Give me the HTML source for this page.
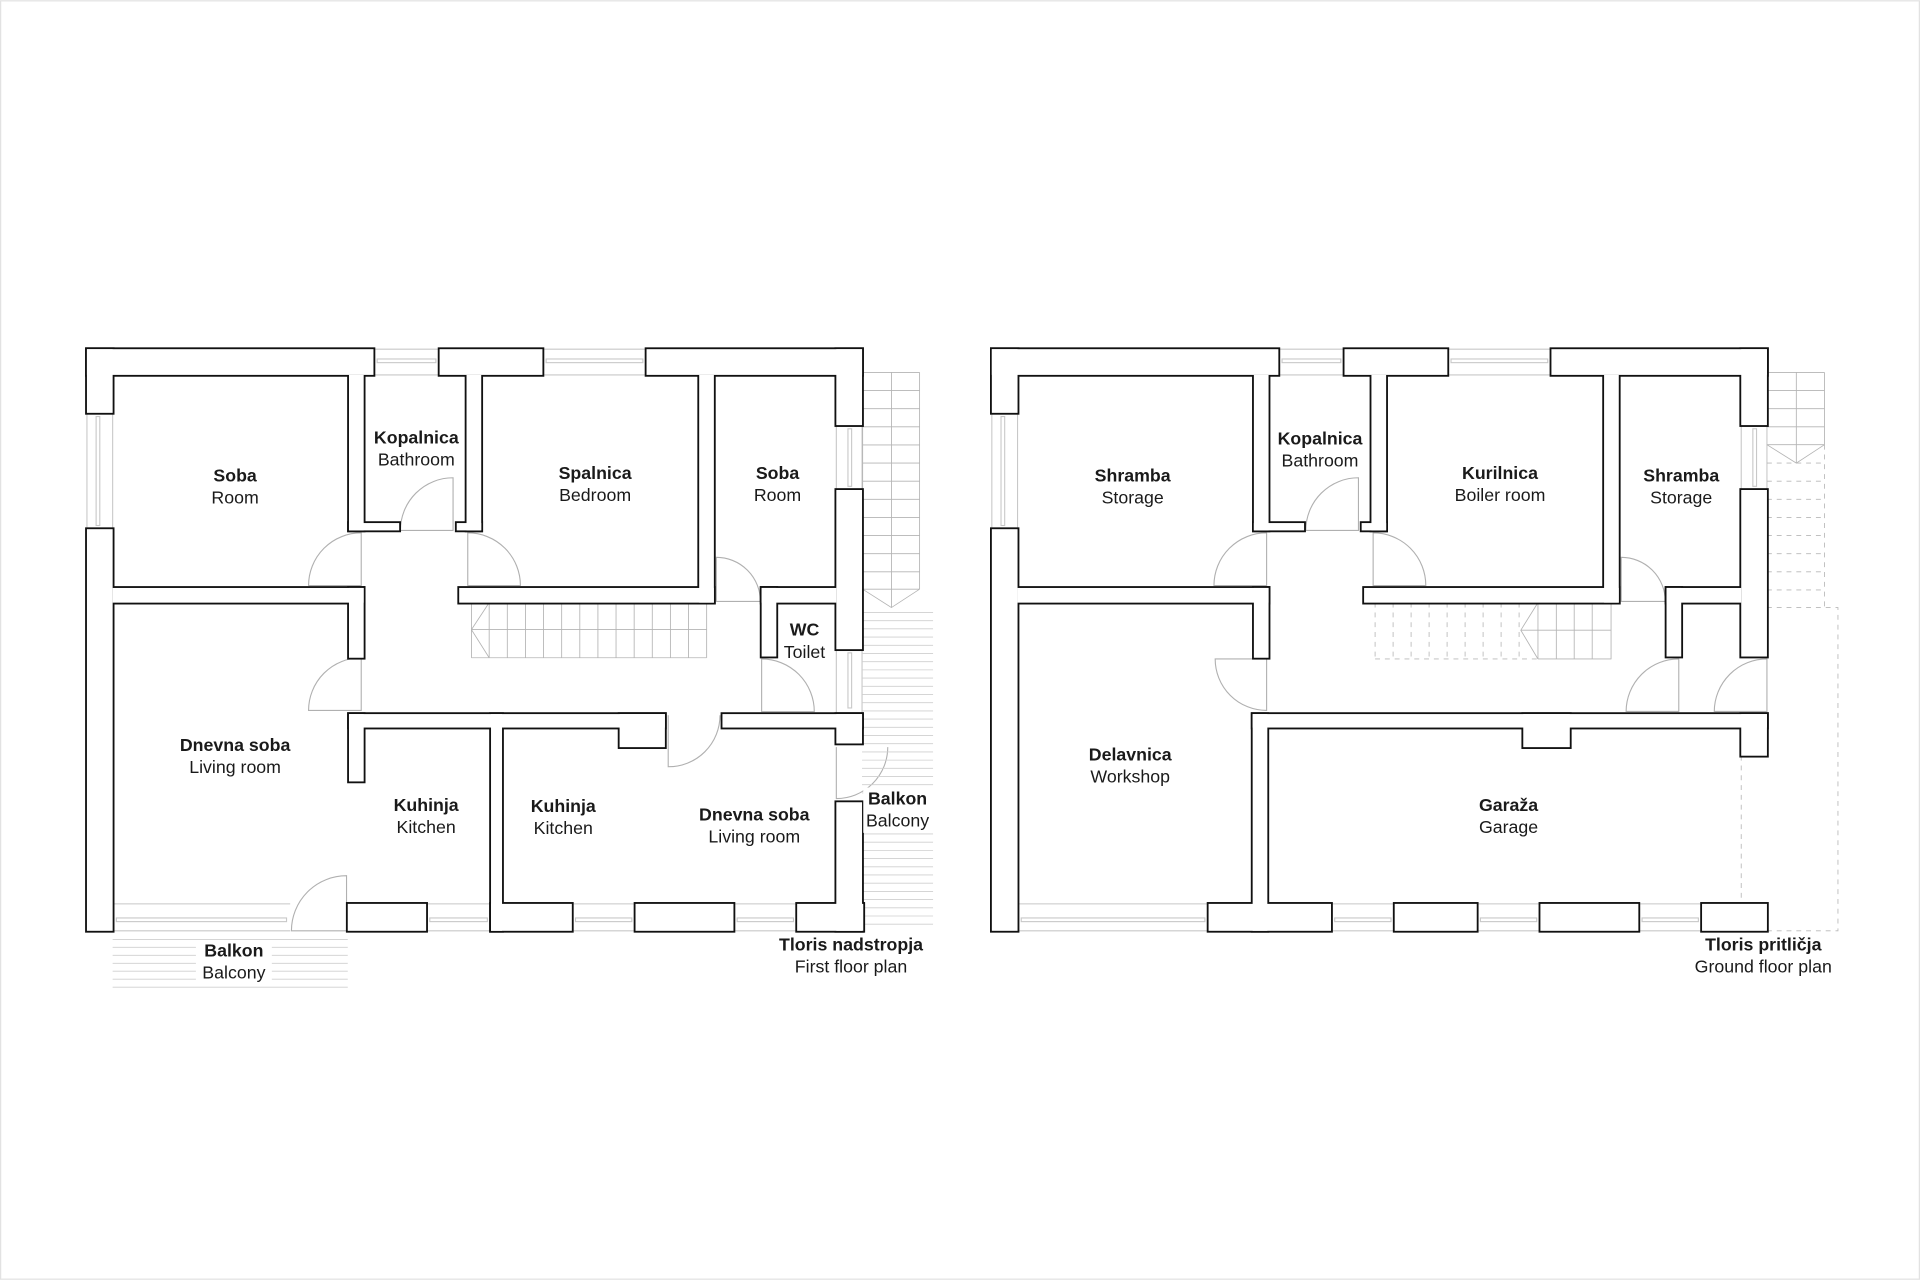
<!DOCTYPE html>
<html><head><meta charset="utf-8"><style>
html,body{margin:0;padding:0;background:#fff;}
svg{display:block;}
text{font-family:"Liberation Sans",Arial,sans-serif;font-size:14.5px;fill:#1a1a1a;text-anchor:middle;}
.b{font-weight:bold;}
</style></head><body>
<svg width="1920" height="1280" viewBox="0 0 1568 1045" xmlns="http://www.w3.org/2000/svg">
<rect x="0.5" y="0.5" width="1567" height="1044" fill="#fff" stroke="#e2e2e2" stroke-width="1"/>
<defs>
<g id="walls">
<rect x="71" y="285" width="234" height="21"/><rect x="71" y="285" width="21" height="52"/>
<rect x="359" y="285" width="84" height="21"/><rect x="528" y="285" width="176" height="21"/>
<rect x="683" y="285" width="21" height="62"/><rect x="71" y="432" width="21" height="328"/>
<rect x="285" y="306" width="12" height="127"/><rect x="285" y="427" width="41" height="6"/>
<rect x="381" y="306" width="12" height="127"/><rect x="373" y="427" width="20" height="6"/>
<rect x="92" y="480" width="205" height="12"/><rect x="285" y="480" width="12" height="57"/>
<rect x="375" y="480" width="208" height="12"/><rect x="571" y="306" width="12" height="186"/>
<rect x="683" y="400" width="21" height="130"/><rect x="622" y="480" width="61" height="12"/>
<rect x="622" y="480" width="12" height="56"/>
<rect x="285" y="583" width="258" height="11"/><rect x="506" y="583" width="37" height="27"/>
<rect x="285" y="583" width="12" height="55"/><rect x="401" y="583" width="9" height="177"/>
<rect x="590" y="583" width="114" height="11"/><rect x="683" y="583" width="21" height="24"/>
<rect x="683" y="655" width="21" height="105"/>
<rect x="284" y="738" width="64" height="22"/><rect x="401" y="738" width="66" height="22"/>
<rect x="519" y="738" width="80" height="22"/><rect x="651" y="738" width="54" height="22"/>
<rect x="810" y="285" width="234" height="21"/><rect x="810" y="285" width="21" height="52"/>
<rect x="1098" y="285" width="84" height="21"/><rect x="1267" y="285" width="176" height="21"/>
<rect x="1422" y="285" width="21" height="62"/><rect x="810" y="432" width="21" height="328"/>
<rect x="1024" y="306" width="12" height="127"/><rect x="1024" y="427" width="41" height="6"/>
<rect x="1120" y="306" width="12" height="127"/><rect x="1112" y="427" width="20" height="6"/>
<rect x="831" y="480" width="205" height="12"/><rect x="1024" y="480" width="12" height="57"/>
<rect x="1114" y="480" width="208" height="12"/><rect x="1310" y="306" width="12" height="186"/>
<rect x="1422" y="400" width="21" height="136"/><rect x="1361" y="480" width="61" height="12"/>
<rect x="1361" y="480" width="12" height="56"/>
<rect x="1023" y="583" width="420" height="11"/><rect x="1023" y="583" width="12" height="177"/>
<rect x="1244" y="583" width="38" height="27"/><rect x="1422" y="583" width="21" height="34"/>
<rect x="987" y="738" width="100" height="22"/><rect x="1139" y="738" width="67" height="22"/>
<rect x="1258" y="738" width="80" height="22"/><rect x="1390" y="738" width="53" height="22"/>
</g>
</defs>

<g stroke="#c8c8c8" stroke-width="0.9" fill="none">
<path d="M305 285H359M305 306H359M443 285H528M443 306H528M1044 285H1098M1044 306H1098M1182 285H1267M1182 306H1267"/>
<rect x="308" y="293" width="48" height="3"/><rect x="446" y="293" width="79" height="3"/>
<rect x="1047" y="293" width="48" height="3"/><rect x="1185" y="293" width="79" height="3"/>
<path d="M92 738H237M92 760H237M348 738H401M348 760H401M467 738H519M467 760H519M599 738H651M599 760H651"/>
<rect x="95" y="749.5" width="139" height="3"/><rect x="351" y="749.5" width="47" height="3"/>
<rect x="470" y="749.5" width="46" height="3"/><rect x="602" y="749.5" width="46" height="3"/>
<path d="M831 738H987M831 760H987M1087 738H1139M1087 760H1139M1206 738H1258M1206 760H1258M1338 738H1390M1338 760H1390"/>
<rect x="834" y="749.5" width="150" height="3"/><rect x="1090" y="749.5" width="46" height="3"/>
<rect x="1209" y="749.5" width="46" height="3"/><rect x="1341" y="749.5" width="46" height="3"/>
<path d="M71 337V432M92 337V432M810 337V432M831 337V432M683 347V400M704 347V400M1422 347V400M1443 347V400M683 530V583M704 530V583"/>
<rect x="78.5" y="340" width="3" height="89"/><rect x="817.5" y="340" width="3" height="89"/>
<rect x="692.5" y="350" width="3" height="47"/><rect x="1431.5" y="350" width="3" height="47"/>
<rect x="692.5" y="533" width="3" height="45"/>
</g>

<g stroke="#b0b0b0" stroke-width="0.9" fill="none">
<path d="M295 478L295 435A43 43 0 0 0 252 478Z"/>
<path d="M370 433L370 390A43 43 0 0 0 327 433Z"/>
<path d="M382 478L382 435A43 43 0 0 1 425 478Z"/>
<path d="M295 580L295 537A43 43 0 0 0 252 580Z"/>
<path d="M585 491L585 455A36 36 0 0 1 621 491Z"/>
<path d="M622 581L622 538A43 43 0 0 1 665 581Z"/>
<path d="M545.7 584L545.7 626A42 42 0 0 0 588 584"/>
<path d="M683 610L683 652A42 42 0 0 0 725 610"/>
<path d="M283 760L283 715A45 45 0 0 0 238 760Z"/>
<path d="M1034.4 478L1034.4 435A43 43 0 0 0 991.4 478Z"/>
<path d="M1109.4 433L1109.4 390A43 43 0 0 0 1066.4 433Z"/>
<path d="M1121.4 478L1121.4 435A43 43 0 0 1 1164.4 478Z"/>
<path d="M1034.4 538L1034.4 580A42 42 0 0 1 992.4 538Z"/>
<path d="M1324 491L1324 455A36 36 0 0 1 1360 491Z"/>
<path d="M1371 580.8L1371 538A43 43 0 0 0 1328 580.8Z"/>
<path d="M1443 580.8L1443 538A43 43 0 0 0 1400 580.8Z"/>
</g>

<g stroke="#b4b4b4" stroke-width="0.7" fill="none">
<path d="M704.5 304V496M728 304V496M751 304V481M704.5 304H751M704.5 318.8H751M704.5 333.6H751M704.5 348.4H751M704.5 363.2H751M704.5 378H751M704.5 392.8H751M704.5 407.6H751M704.5 422.4H751M704.5 437.2H751M704.5 452H751M704.5 466.8H751M704.5 481H751M704.5 481L728 496L751 481"/>
<path d="M385 492V537M399.5 492V537M414.3 492V537M429.1 492V537M443.9 492V537M458.7 492V537M473.5 492V537M488.3 492V537M503.1 492V537M517.9 492V537M532.7 492V537M547.5 492V537M562.3 492V537M577.1 492V537M385 514H577M385 537H577M399.5 492L385 514L399.5 537"/>
<path d="M1467 304V378M1490 304V363M1443 304H1490M1443 318.8H1490M1443 333.6H1490M1443 348.4H1490M1443 363H1490M1443 363L1467 378L1490 363"/>
<path d="M1256 492V538M1271 492V538M1285.6 492V538M1300.3 492V538M1315.7 492V538M1242 514.5H1316M1256 538H1316M1256 492L1242 514.5L1256 538"/>
</g>
<g stroke="#cfcfcf" stroke-width="0.7" fill="none">
<path d="M704 500H762M704 506.7H762M704 513.4H762M704 520.1H762M704 526.8H762M704 533.5H762M704 540.2H762M704 546.9H762M704 553.6H762M704 560.3H762M704 567H762M704 573.7H762M704 580.4H762M704 587.1H762M704 593.8H762M704 600.5H762M704 607.2H762M704 613.9H762M704 620.6H762M704 627.3H762M704 634H762M704 640.7H762M704 647.4H762M704 654.1H762M704 660.8H762M704 667.5H762M704 674.2H762M704 680.9H762M704 687.6H762M704 694.3H762M704 701H762M704 707.7H762M704 714.4H762M704 721.1H762M704 727.8H762M704 734.5H762M704 741.2H762M704 747.9H762M704 754.6H762"/>
<path d="M92 767H284M92 773.5H284M92 780H284M92 786.5H284M92 793H284M92 799.5H284M92 806H284"/>
</g>
<g stroke="#b8b8b8" stroke-width="0.7" fill="none" stroke-dasharray="4 4">
<path d="M1443 378H1490M1443 392.8H1490M1443 407.6H1490M1443 422.4H1490M1443 437.2H1490M1443 452H1490M1443 466.8H1490M1443 481.6H1490M1490 363V496M1443 496H1501V760H1443M1422 617V738"/>
<path d="M1123 492V538M1137.7 492V538M1152.4 492V538M1167.1 492V538M1181.8 492V538M1196.5 492V538M1211.2 492V538M1225.9 492V538M1240.6 492V538M1123 538H1256"/>
</g>

<use href="#walls" fill="#fff" stroke="#111" stroke-width="3"/>
<use href="#walls" fill="#fff" stroke="none"/>

<rect x="160" y="769" width="62" height="35" fill="#fff"/>
<rect x="705" y="643" width="58" height="37" fill="#fff"/>

<text class="b" x="192" y="393">Soba</text><text x="192" y="411">Room</text>
<text class="b" x="340" y="362">Kopalnica</text><text x="340" y="380">Bathroom</text>
<text class="b" x="486" y="391">Spalnica</text><text x="486" y="409">Bedroom</text>
<text class="b" x="635" y="391">Soba</text><text x="635" y="409">Room</text>
<text class="b" x="657" y="519">WC</text><text x="657" y="537">Toilet</text>
<text class="b" x="192" y="613">Dnevna soba</text><text x="192" y="631">Living room</text>
<text class="b" x="348" y="662">Kuhinja</text><text x="348" y="680">Kitchen</text>
<text class="b" x="460" y="663">Kuhinja</text><text x="460" y="681">Kitchen</text>
<text class="b" x="616" y="670">Dnevna soba</text><text x="616" y="688">Living room</text>
<text class="b" x="733" y="657">Balkon</text><text x="733" y="675">Balcony</text>
<text class="b" x="191" y="781">Balkon</text><text x="191" y="799">Balcony</text>
<text class="b" x="695" y="776">Tloris nadstropja</text><text x="695" y="794">First floor plan</text>

<text class="b" x="925" y="393">Shramba</text><text x="925" y="411">Storage</text>
<text class="b" x="1078" y="363">Kopalnica</text><text x="1078" y="381">Bathroom</text>
<text class="b" x="1225" y="391">Kurilnica</text><text x="1225" y="409">Boiler room</text>
<text class="b" x="1373" y="393">Shramba</text><text x="1373" y="411">Storage</text>
<text class="b" x="923" y="621">Delavnica</text><text x="923" y="639">Workshop</text>
<text class="b" x="1232" y="662">Garaža</text><text x="1232" y="680">Garage</text>
<text class="b" x="1440" y="776">Tloris pritličja</text><text x="1440" y="794">Ground floor plan</text>
</svg>
</body></html>
